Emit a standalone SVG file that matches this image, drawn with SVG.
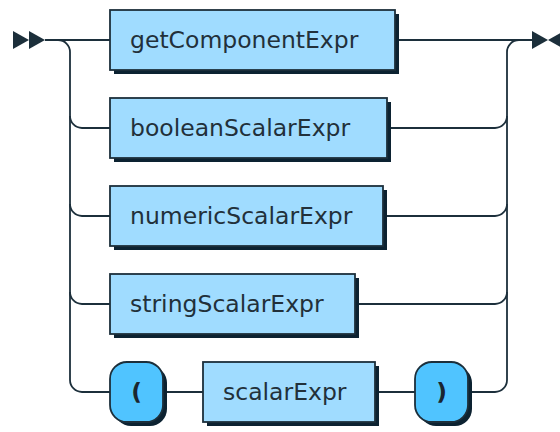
<svg xmlns="http://www.w3.org/2000/svg" width="560" height="432" viewBox="0 0 560 432">
<style>
.line{fill:none;stroke:#1c2f3b;stroke-width:1.8}
.shadow{fill:#0c2231}
.nt{fill:#a0dcff;stroke:#1c2f3b;stroke-width:1.8}
.t{fill:#50c4ff;stroke:#1c2f3b;stroke-width:1.8}
.lbl{font-family:"DejaVu Sans",Verdana,sans-serif;font-size:23.5px;fill:#22303a}
.tl{font-family:"DejaVu Sans",Verdana,sans-serif;font-size:23.5px;font-weight:bold;fill:#1a2630;text-anchor:middle}
.mark{fill:#1c2f3b}
</style>
<rect width="560" height="432" fill="#ffffff"/>
<g id="connectors">
<polygon class="mark" points="13,31 29,40 13,49"/>
<polygon class="mark" points="29,31 45,40 29,49"/>
<polygon class="mark" points="532,31 548,40 532,49"/>
<polygon class="mark" points="564,31 548,40 564,49"/>
<path class="line" d="M45 40 H110"/>
<path class="line" d="M395 40 H532"/>
<path class="line" d="M58 40 A12 12 0 0 1 70 52 V380 A12 12 0 0 0 82 392 H110"/>
<path class="line" d="M70 116 A12 12 0 0 0 82 128 H110"/>
<path class="line" d="M70 204 A12 12 0 0 0 82 216 H110"/>
<path class="line" d="M70 292 A12 12 0 0 0 82 304 H110"/>
<path class="line" d="M507 380 V52 A12 12 0 0 1 519 40"/>
<path class="line" d="M387 128 H495 A12 12 0 0 0 507 116"/>
<path class="line" d="M383 216 H495 A12 12 0 0 0 507 204"/>
<path class="line" d="M355 304 H495 A12 12 0 0 0 507 292"/>
<path class="line" d="M468 392 H495 A12 12 0 0 0 507 380"/>
<path class="line" d="M163 392 H203"/>
<path class="line" d="M375 392 H415"/>
</g>
<g id="getComponentExpr">
<rect class="shadow" x="114" y="14" width="285" height="60"/>
<rect class="nt" x="110" y="10" width="285" height="60"/>
<text class="lbl" x="130" y="48">getComponentExpr</text>
</g>
<g id="booleanScalarExpr">
<rect class="shadow" x="114" y="102" width="277" height="60"/>
<rect class="nt" x="110" y="98" width="277" height="60"/>
<text class="lbl" x="130" y="136">booleanScalarExpr</text>
</g>
<g id="numericScalarExpr">
<rect class="shadow" x="114" y="190" width="273" height="60"/>
<rect class="nt" x="110" y="186" width="273" height="60"/>
<text class="lbl" x="130" y="224">numericScalarExpr</text>
</g>
<g id="stringScalarExpr">
<rect class="shadow" x="114" y="278" width="245" height="60"/>
<rect class="nt" x="110" y="274" width="245" height="60"/>
<text class="lbl" x="130" y="312">stringScalarExpr</text>
</g>
<g id="lparen">
<rect class="shadow" x="114" y="366" width="53" height="60" rx="17"/>
<rect class="t" x="110" y="362" width="53" height="60" rx="17"/>
<text class="tl" x="136.5" y="400">(</text>
</g>
<g id="scalarExpr">
<rect class="shadow" x="207" y="366" width="172" height="60"/>
<rect class="nt" x="203" y="362" width="172" height="60"/>
<text class="lbl" x="223" y="400">scalarExpr</text>
</g>
<g id="rparen">
<rect class="shadow" x="419" y="366" width="53" height="60" rx="17"/>
<rect class="t" x="415" y="362" width="53" height="60" rx="17"/>
<text class="tl" x="441.5" y="400">)</text>
</g>
</svg>
